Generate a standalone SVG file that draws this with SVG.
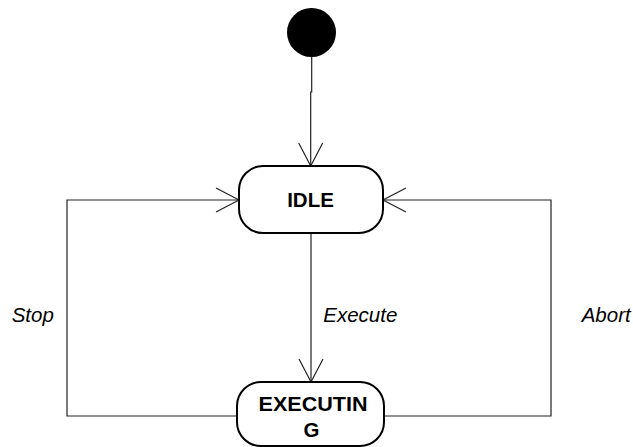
<svg xmlns="http://www.w3.org/2000/svg" width="633" height="447" viewBox="0 0 633 447">
  <style>
    .state { fill: #ffffff; stroke: #000000; stroke-width: 2; }
    .edge { fill: none; stroke: #222222; stroke-width: 1.2; }
    .name { font-family: "Liberation Sans", Arial, sans-serif; font-weight: bold; font-size: 20.5px; fill: #000000; text-anchor: middle; }
    .label { font-family: "Liberation Sans", Arial, sans-serif; font-style: italic; font-size: 20.5px; fill: #000000; }
  </style>
  <defs>
    <marker id="open-arrow" markerUnits="userSpaceOnUse" viewBox="0 0 26 26" refX="24" refY="13" markerWidth="26" markerHeight="26" orient="auto">
      <path d="M1,1 L24,13 L1,25" fill="none" stroke="#222222" stroke-width="1.2"/>
    </marker>
  </defs>
  <rect width="633" height="447" fill="#ffffff"/>

  <g id="connectors">
    <!-- initial -> IDLE -->
    <path class="edge" d="M311.7,57 L311.7,92 L310.7,92 L310.7,166" marker-end="url(#open-arrow)"/>
    <!-- IDLE -> EXECUTING -->
    <path class="edge" d="M311,233 L311,382" marker-end="url(#open-arrow)"/>
    <!-- EXECUTING -> IDLE (Stop) -->
    <path class="edge" d="M237,416 L67,416 L67,200 L239,200" marker-end="url(#open-arrow)"/>
    <!-- EXECUTING -> IDLE (Abort) -->
    <path class="edge" d="M384,416 L551,416 L551,200 L383,200" marker-end="url(#open-arrow)"/>
  </g>

  <g id="labels">
    <text class="label" x="323.3" y="321.7">Execute</text>
    <text class="label" x="11.7" y="322">Stop</text>
    <text class="label" x="581.7" y="321.7">Abort</text>
  </g>

  <g id="initial">
    <circle cx="311.5" cy="32.5" r="24.5" fill="#000000"/>
  </g>

  <g id="idle">
    <rect class="state" x="239" y="166" width="144" height="67" rx="24" ry="24"/>
    <text class="name" x="310.5" y="207.3">IDLE</text>
  </g>

  <g id="executing">
    <rect class="state" x="237" y="382" width="147" height="64" rx="24" ry="24"/>
    <text class="name" x="313" y="410.7" textLength="109" lengthAdjust="spacingAndGlyphs">EXECUTIN</text>
    <text class="name" x="311.5" y="436.5">G</text>
  </g>
</svg>
